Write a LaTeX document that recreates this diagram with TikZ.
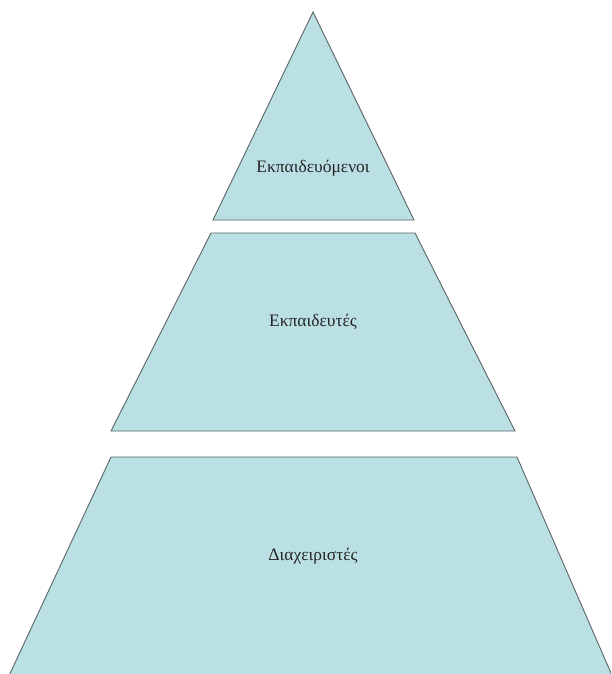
\documentclass[tikz,border=0pt]{standalone}
\usepackage{fontspec}
\setmainfont{Liberation Serif}
\definecolor{tierfill}{HTML}{BBE0E4}
\definecolor{tierline}{HTML}{5A6466}
\tikzset{tier/.style={fill=tierfill, draw=tierline, line width=0.9pt, line join=miter},
  tierlabel/.style={font=\fontsize{17.5}{20}\selectfont, text=black!85, inner sep=0pt}}
\begin{document}
\begin{tikzpicture}[x=1pt,y=-1pt]
\useasboundingbox (0,0) rectangle (611,674);
\clip (0,0) rectangle (611,674);
\fill[white] (0,0) rectangle (611,674);
% top tier
\draw[tier] (313,12) -- (414,220) -- (213,220) -- cycle;
% middle tier
\draw[tier] (211,233) -- (415,233) -- (515,431) -- (111,431) -- cycle;
% bottom tier
\draw[tier] (111,457) -- (517,457) -- (614,680) -- (7,680) -- cycle;
\node[tierlabel] (t1) at (313,168) {Εκπαιδευόμενοι};
\node[tierlabel] (t2) at (313,322) {Εκπαιδευτές};
\node[tierlabel] (t3) at (313,556) {Διαχειριστές};
\end{tikzpicture}
\end{document}
